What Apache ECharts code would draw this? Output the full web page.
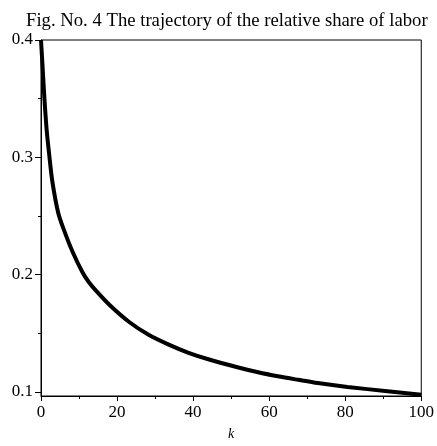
<!DOCTYPE HTML>
<html>
	<head>
		<meta http-equiv="Content-type" content="text/html; charset=UTF-8" />
		<script type="text/javascript" src="https://cdn.jsdelivr.net/npm/echarts@6/dist/echarts.min.js"></script>
		<style>
			html, body { margin: 0; padding: 0; background: #fff; }
		</style>
	</head>
	<body>
		<div id="div_1" style="width: 437px;height:446px;"></div>
	</body>
</html>

<script>
	// values
	var kValues = [0, 0.4, 0.9, 1.5, 2.2, 3, 4.5, 6.1, 8.3, 10.9, 12.6, 14.4, 17.9, 23.1, 28.3, 33.6, 38.8, 44, 51.9, 57.1, 62.3, 67.6, 72.8, 80.6, 91.1, 100]
	var shareValues = [0.4, 0.378, 0.35, 0.323, 0.301, 0.279, 0.253, 0.2375, 0.2195, 0.202, 0.1935, 0.1865, 0.1745, 0.1598, 0.1487, 0.1403, 0.1333, 0.1278, 0.1208, 0.1167, 0.1133, 0.1103, 0.1075, 0.1042, 0.1006, 0.0975]
	var xTicks = [0, 20, 40, 60, 80, 100]
	var xMinorTicks = [10, 30, 50, 70, 90]
	var yTicks = [0.1, 0.2, 0.3, 0.4]
	var yMinorTicks = [0.15, 0.25, 0.35]

	var data = kValues.map(function (k, i) {
		return [k, shareValues[i]]
	})

	var serif = '"Liberation Serif", "Times New Roman", serif'
	var yMin = 0.0965
	var myChart = echarts.init(document.getElementById("div_1"))
	var option = {
		backgroundColor: '#fff',
		animation: false,
		title: {
			text: 'Fig. No. 4 The trajectory of the relative share of labor',
			left: 21,
			top: 7,
			textStyle: {
				fontFamily: serif,
				fontWeight: 'normal',
				fontSize: 18.7,
				color: '#000'
			}
		},
		grid: {
			left: 41,
			right: 12,
			top: 40,
			bottom: 39,
			show: true,
			borderColor: '#000',
			borderWidth: 1
		},
		xAxis: [{
			type: 'value',
			min: 0,
			max: 100,
			name: 'k',
			nameLocation: 'middle',
			nameGap: 31,
			nameTextStyle: {
				fontFamily: serif,
				fontStyle: 'italic',
				fontSize: 14,
				color: '#000'
			},
			axisLine: { show: true, lineStyle: { color: '#000', width: 1 } },
			axisTick: { show: true, length: 5, customValues: xTicks, lineStyle: { color: '#000' } },
			axisLabel: {
				customValues: xTicks,
				margin: 8,
				fontFamily: serif,
				fontSize: 17,
				color: '#000'
			},
			splitLine: { show: false }
		}, {
			type: 'value',
			min: 0,
			max: 100,
			position: 'bottom',
			axisLine: { show: false },
			axisTick: { show: true, length: 3, customValues: xMinorTicks, lineStyle: { color: '#000' } },
			axisLabel: { show: false },
			splitLine: { show: false }
		}],
		yAxis: [{
			type: 'value',
			min: yMin,
			max: 0.4,
			axisLine: { show: true, lineStyle: { color: '#000', width: 1 } },
			axisTick: { show: true, length: 6, customValues: yTicks, lineStyle: { color: '#000' } },
			axisLabel: {
				customValues: yTicks,
				margin: 8,
				fontFamily: serif,
				fontSize: 17,
				color: '#000',
				formatter: function (v) { return v.toFixed(1) }
			},
			splitLine: { show: false }
		}, {
			type: 'value',
			min: yMin,
			max: 0.4,
			position: 'left',
			axisLine: { show: false },
			axisTick: { show: true, length: 3, customValues: yMinorTicks, lineStyle: { color: '#000' } },
			axisLabel: { show: false },
			splitLine: { show: false }
		}],
		series: [{
			type: 'line',
			data: data,
			xAxisIndex: 0,
			yAxisIndex: 0,
			smooth: 0.3,
			showSymbol: false,
			clip: false,
			lineStyle: { color: '#000', width: 4 }
		}]
	}
	myChart.setOption(option)
</script>
